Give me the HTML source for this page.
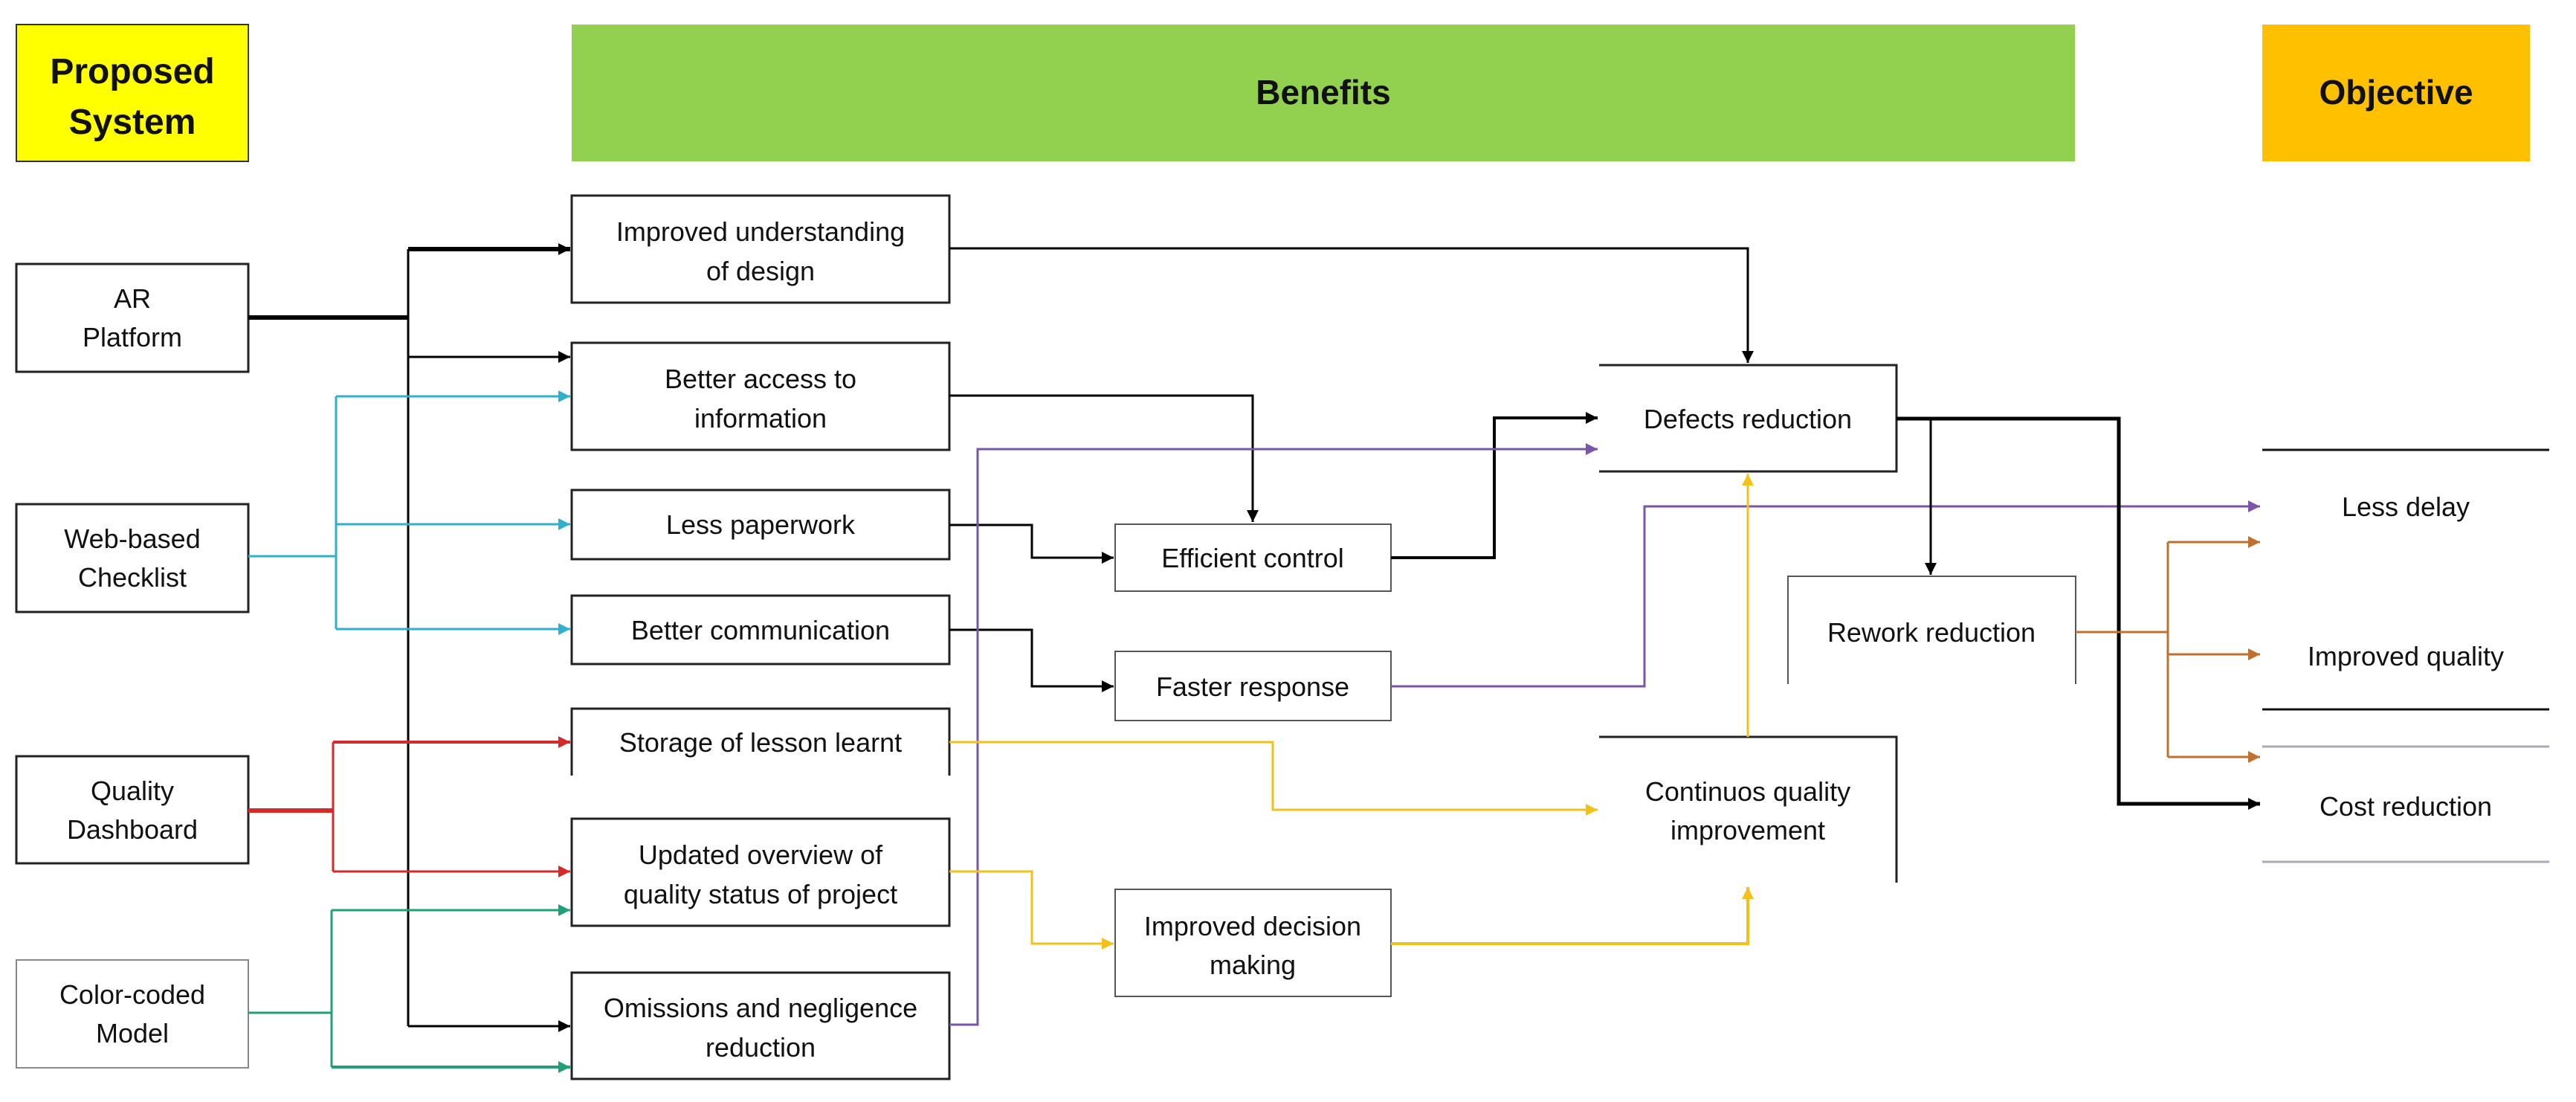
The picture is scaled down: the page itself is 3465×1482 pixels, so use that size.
<!DOCTYPE html>
<html><head><meta charset="utf-8"><style>
html,body{margin:0;padding:0;background:#fff;}
svg{display:block;}
text{font-family:"Liberation Sans",sans-serif;fill:#111;}
</style></head><body>
<svg width="3465" height="1482" viewBox="0 0 3465 1482" xmlns="http://www.w3.org/2000/svg">
<defs>
<marker id="ak" markerUnits="userSpaceOnUse" markerWidth="20" markerHeight="20" refX="16" refY="8" orient="auto"><path d="M0,0 L16,8 L0,16 z" fill="#000"/></marker>
<marker id="ac" markerUnits="userSpaceOnUse" markerWidth="20" markerHeight="20" refX="16" refY="8" orient="auto"><path d="M0,0 L16,8 L0,16 z" fill="#31B0CC"/></marker>
<marker id="ar" markerUnits="userSpaceOnUse" markerWidth="20" markerHeight="20" refX="16" refY="8" orient="auto"><path d="M0,0 L16,8 L0,16 z" fill="#D42A2A"/></marker>
<marker id="ag" markerUnits="userSpaceOnUse" markerWidth="20" markerHeight="20" refX="16" refY="8" orient="auto"><path d="M0,0 L16,8 L0,16 z" fill="#22A074"/></marker>
<marker id="ap" markerUnits="userSpaceOnUse" markerWidth="20" markerHeight="20" refX="16" refY="8" orient="auto"><path d="M0,0 L16,8 L0,16 z" fill="#7A55A8"/></marker>
<marker id="ay" markerUnits="userSpaceOnUse" markerWidth="20" markerHeight="20" refX="16" refY="8" orient="auto"><path d="M0,0 L16,8 L0,16 z" fill="#F2C21A"/></marker>
<marker id="ab" markerUnits="userSpaceOnUse" markerWidth="20" markerHeight="20" refX="16" refY="8" orient="auto"><path d="M0,0 L16,8 L0,16 z" fill="#C0702E"/></marker>
</defs>

<!-- headers -->
<rect x="22" y="33" width="312" height="184" fill="#FFFF00" stroke="#333" stroke-width="2"/>
<text x="178" y="112" font-size="48" font-weight="bold" text-anchor="middle">Proposed</text>
<text x="178" y="180" font-size="48" font-weight="bold" text-anchor="middle">System</text>
<rect x="769" y="33" width="2022" height="184" fill="#92D050"/>
<text x="1780" y="140" font-size="46" font-weight="bold" text-anchor="middle">Benefits</text>
<rect x="3043" y="33" width="360" height="184" fill="#FFC000"/>
<text x="3223" y="140" font-size="46" font-weight="bold" text-anchor="middle">Objective</text>

<!-- left boxes -->
<g fill="#fff" stroke="#222" stroke-width="3">
<rect x="22" y="355" width="312" height="145"/>
<rect x="22" y="678" width="312" height="145"/>
<rect x="22" y="1017" width="312" height="144"/>
<rect x="22" y="1291" width="312" height="145" stroke="#888" stroke-width="2"/>
</g>
<g font-size="36" text-anchor="middle">
<text x="178" y="414">AR</text><text x="178" y="466">Platform</text>
<text x="178" y="737">Web-based</text><text x="178" y="789">Checklist</text>
<text x="178" y="1076">Quality</text><text x="178" y="1128">Dashboard</text>
<text x="178" y="1350">Color-coded</text><text x="178" y="1402">Model</text>
</g>

<!-- benefit boxes -->
<g fill="#fff" stroke="#222" stroke-width="3">
<rect x="769" y="263" width="508" height="144"/>
<rect x="769" y="461" width="508" height="144"/>
<rect x="769" y="659" width="508" height="93"/>
<rect x="769" y="801" width="508" height="92"/>
<rect x="769" y="1101" width="508" height="144"/>
<rect x="769" y="1308" width="508" height="143"/>
</g>
<path d="M769,1043 V953 H1277 V1043" fill="none" stroke="#222" stroke-width="3"/>
<g font-size="36" text-anchor="middle">
<text x="1023" y="324">Improved understanding</text><text x="1023" y="377">of design</text>
<text x="1023" y="522">Better access to</text><text x="1023" y="575">information</text>
<text x="1023" y="718">Less paperwork</text>
<text x="1023" y="860">Better communication</text>
<text x="1023" y="1011">Storage of lesson learnt</text>
<text x="1023" y="1162">Updated overview of</text><text x="1023" y="1215">quality status of project</text>
<text x="1023" y="1368">Omissions and negligence</text><text x="1023" y="1421">reduction</text>
</g>

<!-- mid boxes -->
<g fill="#fff" stroke="#555" stroke-width="2">
<rect x="1500" y="705" width="371" height="90"/>
<rect x="1500" y="876" width="371" height="93"/>
<rect x="1500" y="1196" width="371" height="144"/>
</g>
<g font-size="36" text-anchor="middle">
<text x="1685" y="763">Efficient control</text>
<text x="1685" y="936">Faster response</text>
<text x="1685" y="1258">Improved decision</text><text x="1685" y="1310">making</text>
</g>

<!-- defects, continuous, rework -->
<path d="M2151,491 H2551 V634 H2151" fill="none" stroke="#222" stroke-width="3"/>
<text x="2351" y="576" font-size="36" text-anchor="middle">Defects reduction</text>
<path d="M2151,991 H2551 V1187" fill="none" stroke="#222" stroke-width="3"/>
<text x="2351" y="1077" font-size="36" text-anchor="middle">Continuos quality</text>
<text x="2351" y="1129" font-size="36" text-anchor="middle">improvement</text>
<path d="M2405,920 V775 H2792 V920" fill="none" stroke="#555" stroke-width="2"/>
<text x="2598" y="863" font-size="36" text-anchor="middle">Rework reduction</text>

<!-- objective lines -->
<g stroke-width="3">
<line x1="3043" y1="605" x2="3429" y2="605" stroke="#111"/>
<line x1="3043" y1="954" x2="3429" y2="954" stroke="#111"/>
<line x1="3043" y1="1004" x2="3429" y2="1004" stroke="#aab"/>
<line x1="3043" y1="1159" x2="3429" y2="1159" stroke="#aab"/>
</g>
<g font-size="36" text-anchor="middle">
<text x="3236" y="694">Less delay</text>
<text x="3236" y="895">Improved quality</text>
<text x="3236" y="1097">Cost reduction</text>
</g>

<!-- connectors -->
<g fill="none">
<!-- AR black -->
<path d="M334,427 H549" stroke="#000" stroke-width="6"/>
<path d="M549,335 V1380" stroke="#000" stroke-width="3"/>
<path d="M549,335 H767" stroke="#000" stroke-width="6" marker-end="url(#ak)"/>
<path d="M549,480 H767" stroke="#000" stroke-width="3" marker-end="url(#ak)"/>
<path d="M549,1380 H767" stroke="#000" stroke-width="3" marker-end="url(#ak)"/>
<!-- cyan -->
<path d="M334,748 H452 M452,533 V846" stroke="#31B0CC" stroke-width="3"/>
<path d="M452,533 H767" stroke="#31B0CC" stroke-width="3" marker-end="url(#ac)"/>
<path d="M452,705 H767" stroke="#31B0CC" stroke-width="3" marker-end="url(#ac)"/>
<path d="M452,846 H767" stroke="#31B0CC" stroke-width="3" marker-end="url(#ac)"/>
<!-- red -->
<path d="M334,1090 H448" stroke="#D42A2A" stroke-width="6"/>
<path d="M448,998 V1172" stroke="#D42A2A" stroke-width="3"/>
<path d="M448,998 H767" stroke="#D42A2A" stroke-width="4" marker-end="url(#ar)"/>
<path d="M448,1172 H767" stroke="#D42A2A" stroke-width="3" marker-end="url(#ar)"/>
<!-- green -->
<path d="M334,1362 H446 M446,1224 V1435" stroke="#22A074" stroke-width="3"/>
<path d="M446,1224 H767" stroke="#22A074" stroke-width="3" marker-end="url(#ag)"/>
<path d="M446,1435 H767" stroke="#22A074" stroke-width="4" marker-end="url(#ag)"/>
<!-- black mid -->
<path d="M1277,334 H2351 V488" stroke="#000" stroke-width="3" marker-end="url(#ak)"/>
<path d="M1277,532 H1685 V702" stroke="#000" stroke-width="3" marker-end="url(#ak)"/>
<path d="M1277,706 H1388 V750 H1498" stroke="#000" stroke-width="3" marker-end="url(#ak)"/>
<path d="M1277,847 H1388 V923 H1498" stroke="#000" stroke-width="3" marker-end="url(#ak)"/>
<path d="M1871,750 H2010 V562 H2149" stroke="#000" stroke-width="4" marker-end="url(#ak)"/>
<!-- purple -->
<path d="M1277,1378 H1315 V604 H2149" stroke="#7A55A8" stroke-width="3" marker-end="url(#ap)"/>
<path d="M1871,923 H2212 V681 H3040" stroke="#7A55A8" stroke-width="3" marker-end="url(#ap)"/>
<!-- yellow -->
<path d="M1277,998 H1712 V1089 H2149" stroke="#F2C21A" stroke-width="3" marker-end="url(#ay)"/>
<path d="M1277,1172 H1388 V1269 H1498" stroke="#F2C21A" stroke-width="3" marker-end="url(#ay)"/>
<path d="M1871,1269 H2351 V1193" stroke="#F2C21A" stroke-width="4" marker-end="url(#ay)"/>
<path d="M2351,991 V637" stroke="#F2C21A" stroke-width="3" marker-end="url(#ay)"/>
<!-- defects out -->
<path d="M2551,563 H2850 V1081 H3040" stroke="#000" stroke-width="5" marker-end="url(#ak)"/>
<path d="M2597,563 V773" stroke="#000" stroke-width="3" marker-end="url(#ak)"/>
<!-- brown -->
<path d="M2792,850 H2916 M2916,729 V1018" stroke="#C0702E" stroke-width="3"/>
<path d="M2916,729 H3040" stroke="#C0702E" stroke-width="3" marker-end="url(#ab)"/>
<path d="M2916,880 H3040" stroke="#C0702E" stroke-width="3" marker-end="url(#ab)"/>
<path d="M2916,1018 H3040" stroke="#C0702E" stroke-width="3" marker-end="url(#ab)"/>
</g>
</svg>
</body></html>
